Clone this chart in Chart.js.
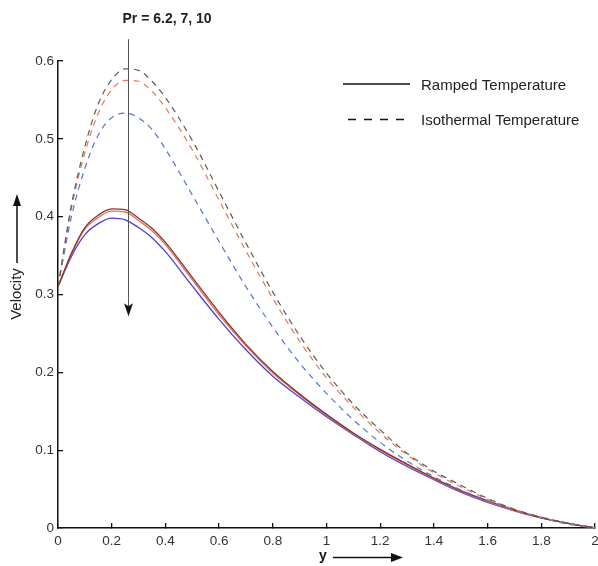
<!DOCTYPE html>
<html>
<head>
<meta charset="utf-8">
<script src="https://cdn.jsdelivr.net/npm/chart.js@4"></script>
<style>
  html, body { margin: 0; padding: 0; background: #fff; }
</style>
</head>
<body>
<canvas id="velocityChart" width="598" height="566"></canvas>
<script>
// distance from the plate
const yPoints = [0, 0.05, 0.1, 0.15, 0.2, 0.25, 0.3, 0.35, 0.4, 0.5, 0.6, 0.7, 0.8, 0.9,
                 1.0, 1.1, 1.2, 1.3, 1.4, 1.5, 1.6, 1.7, 1.8, 1.9, 2.0];

// ramped wall temperature, Pr = 6.2, 7, 10
const rampedPr62 = [0.31, 0.353, 0.386, 0.402, 0.410, 0.409, 0.398, 0.385, 0.367, 0.322, 0.277, 0.236, 0.201, 0.172,
                    0.146, 0.122, 0.101, 0.082, 0.064, 0.048, 0.035, 0.023, 0.013, 0.006, 0];
const rampedPr7  = [0.31, 0.352, 0.384, 0.399, 0.407, 0.406, 0.395, 0.382, 0.364, 0.319, 0.274, 0.234, 0.199, 0.171,
                    0.145, 0.121, 0.100, 0.081, 0.063, 0.047, 0.034, 0.022, 0.013, 0.006, 0];
const rampedPr10 = [0.31, 0.349, 0.377, 0.391, 0.398, 0.396, 0.386, 0.373, 0.355, 0.311, 0.268, 0.229, 0.195, 0.168,
                    0.143, 0.120, 0.098, 0.079, 0.062, 0.046, 0.033, 0.022, 0.013, 0.006, 0];

// isothermal wall temperature, Pr = 6.2, 7, 10
const isoPr62 = [0.31, 0.415, 0.490, 0.545, 0.576, 0.590, 0.588, 0.574, 0.553, 0.498, 0.432, 0.366, 0.303, 0.247,
                 0.199, 0.159, 0.126, 0.096, 0.073, 0.055, 0.038, 0.024, 0.014, 0.006, 0];
const isoPr7  = [0.31, 0.411, 0.482, 0.533, 0.563, 0.575, 0.574, 0.561, 0.540, 0.486, 0.421, 0.356, 0.295, 0.240,
                 0.193, 0.155, 0.122, 0.094, 0.071, 0.053, 0.037, 0.024, 0.014, 0.006, 0];
const isoPr10 = [0.31, 0.400, 0.462, 0.505, 0.527, 0.533, 0.527, 0.512, 0.487, 0.428, 0.368, 0.310, 0.258, 0.212,
                 0.173, 0.139, 0.110, 0.086, 0.066, 0.049, 0.035, 0.023, 0.013, 0.005, 0];

const xTicks = [0, 0.2, 0.4, 0.6, 0.8, 1, 1.2, 1.4, 1.6, 1.8, 2];
const yTicks = [0, 0.1, 0.2, 0.3, 0.4, 0.5, 0.6];
const legendLabels = ['Ramped Temperature', 'Isothermal Temperature'];
const arrowLabel = 'Pr = 6.2, 7, 10';
const arrowAt = 0.26;

const toPoints = arr => arr.map((v, i) => ({ x: yPoints[i], y: v }));

function line(data, color, dashed) {
  return {
    data: toPoints(data),
    borderColor: color,
    borderWidth: dashed ? 1.2 : 1.3,
    borderDash: dashed ? [6, 5] : [],
    pointRadius: 0,
    fill: false,
    cubicInterpolationMode: 'monotone'
  };
}

const FONT = 'Liberation Sans, Arial, sans-serif';

// arrow, annotation text, legend and axis titles
const extras = {
  id: 'extras',
  afterDraw(chart) {
    const ctx = chart.ctx;
    const xs = chart.scales.x, ys = chart.scales.y;
    ctx.save();

    // Pr arrow
    const ax = Math.round(xs.getPixelForValue(arrowAt)) + 0.5;
    const yTop = ys.getPixelForValue(0.628);
    const yTip = ys.getPixelForValue(0.272);
    ctx.strokeStyle = '#555';
    ctx.lineWidth = 1;
    ctx.beginPath();
    ctx.moveTo(ax, yTop);
    ctx.lineTo(ax, yTip - 6);
    ctx.stroke();
    ctx.fillStyle = '#111';
    ctx.beginPath();
    ctx.moveTo(ax, yTip);
    ctx.lineTo(ax - 4.5, yTip - 13);
    ctx.lineTo(ax, yTip - 10);
    ctx.lineTo(ax + 4.5, yTip - 13);
    ctx.closePath();
    ctx.fill();

    ctx.fillStyle = '#222';
    ctx.font = 'bold 14px ' + FONT;
    ctx.textAlign = 'left';
    ctx.textBaseline = 'middle';
    ctx.fillText(arrowLabel, ax - 6, 19);

    // legend
    ctx.font = '15px ' + FONT;
    ctx.textAlign = 'left';
    ctx.strokeStyle = '#111';
    ctx.lineWidth = 1.3;
    ctx.beginPath();
    ctx.moveTo(343, 84);
    ctx.lineTo(410, 84);
    ctx.stroke();
    ctx.fillText(legendLabels[0], 421, 86);
    ctx.setLineDash([8, 8]);
    ctx.beginPath();
    ctx.moveTo(348, 119.5);
    ctx.lineTo(412, 119.5);
    ctx.stroke();
    ctx.setLineDash([]);
    ctx.fillText(legendLabels[1], 421, 121);

    // y-axis title with arrow
    ctx.save();
    ctx.translate(17, 294);
    ctx.rotate(-Math.PI / 2);
    ctx.font = '15px ' + FONT;
    ctx.textAlign = 'center';
    ctx.fillText('Velocity', 0, 0);
    ctx.restore();
    ctx.strokeStyle = '#111';
    ctx.lineWidth = 1.5;
    ctx.beginPath();
    ctx.moveTo(17, 263);
    ctx.lineTo(17, 200);
    ctx.stroke();
    ctx.fillStyle = '#111';
    ctx.beginPath();
    ctx.moveTo(17, 194);
    ctx.lineTo(13, 206);
    ctx.lineTo(21, 206);
    ctx.closePath();
    ctx.fill();

    // x-axis title with arrow
    ctx.font = 'bold 14px ' + FONT;
    ctx.textAlign = 'center';
    ctx.fillText('y', 323, 556);
    ctx.beginPath();
    ctx.moveTo(333, 557.5);
    ctx.lineTo(396, 557.5);
    ctx.stroke();
    ctx.beginPath();
    ctx.moveTo(403, 557.5);
    ctx.lineTo(391, 553);
    ctx.lineTo(391, 562);
    ctx.closePath();
    ctx.fill();

    ctx.restore();
  }
};

const tickFmt = v => String(+v.toFixed(1));

new Chart(document.getElementById('velocityChart').getContext('2d'), {
  type: 'line',
  data: {
    datasets: [
      line(isoPr62, '#5c5c5c', true),
      line(isoPr7, '#e07a55', true),
      line(isoPr10, '#5274d8', true),
      line(rampedPr62, '#86352e', false),
      line(rampedPr7, '#e4705e', false),
      line(rampedPr10, '#4d3fcf', false)
    ]
  },
  options: {
    responsive: false,
    animation: false,
    layout: { padding: { top: 61, right: 3, left: 0, bottom: 0 } },
    plugins: { legend: { display: false }, tooltip: { enabled: false } },
    scales: {
      x: {
        type: 'linear',
        min: 0, max: 2,
        afterBuildTicks: s => { s.ticks = xTicks.map(v => ({ value: v })); },
        afterFit: s => { s.height = 38; s.paddingLeft = 0; s.paddingRight = 0; },
        grid: { drawOnChartArea: false, drawTicks: true, tickLength: -5, color: '#111', lineWidth: 1.3 },
        border: { display: true, color: '#111', width: 1.5 },
        ticks: { padding: 10, maxRotation: 0, autoSkip: false, color: '#333', font: { family: FONT, size: 13.5 }, callback: tickFmt }
      },
      y: {
        type: 'linear',
        min: 0, max: 0.6,
        afterBuildTicks: s => { s.ticks = yTicks.map(v => ({ value: v })); },
        afterFit: s => { s.width = 58; s.paddingTop = 0; s.paddingBottom = 0; },
        grid: { drawOnChartArea: false, drawTicks: true, tickLength: -5, color: '#111', lineWidth: 1.3 },
        border: { display: true, color: '#111', width: 1.5 },
        ticks: { padding: 9, autoSkip: false, color: '#333', font: { family: FONT, size: 13.5 }, callback: tickFmt }
      }
    }
  },
  plugins: [extras]
});
</script>
</body>
</html>
